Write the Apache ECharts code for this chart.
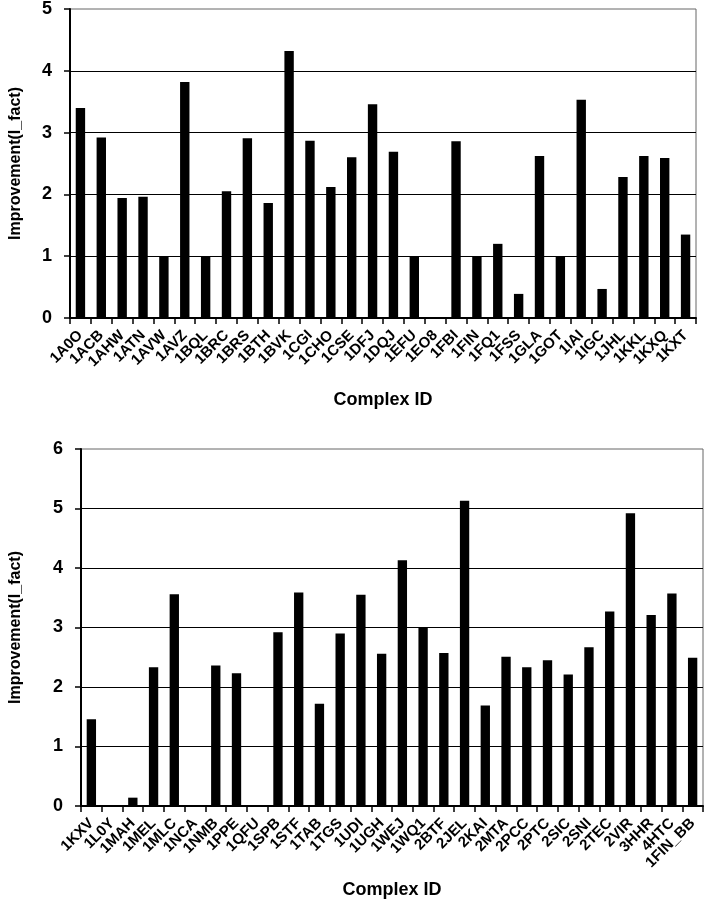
<!DOCTYPE html>
<html>
<head>
<meta charset="utf-8">
<script src="https://cdn.jsdelivr.net/npm/echarts@6/dist/echarts.min.js"></script>
<style>
html,body{margin:0;padding:0;background:#fff;}
#c{width:706px;height:900px;}
</style>
</head>
<body>
<div id="c"></div>
<script>
const topCategories = ['1A0O','1ACB','1AHW','1ATN','1AVW','1AVZ','1BQL','1BRC','1BRS','1BTH','1BVK','1CGI','1CHO','1CSE','1DFJ','1DQJ','1EFU','1EO8','1FBI','1FIN','1FQ1','1FSS','1GLA','1GOT','1IAI','1IGC','1JHL','1KKL','1KXQ','1KXT'];
const topValues = [3.40,2.92,1.94,1.96,1.0,3.82,1.0,2.05,2.91,1.86,4.32,2.87,2.12,2.60,3.46,2.69,1.0,0,2.86,1.0,1.20,0.39,2.62,1.0,3.53,0.47,2.28,2.62,2.59,1.35];
const bottomCategories = ['1KXV','1L0Y','1MAH','1MEL','1MLC','1NCA','1NMB','1PPE','1QFU','1SPB','1STF','1TAB','1TGS','1UDI','1UGH','1WEJ','1WQ1','2BTF','2JEL','2KAI','2MTA','2PCC','2PTC','2SIC','2SNI','2TEC','2VIR','3HHR','4HTC','1FIN_BB'];
const bottomValues = [1.46,0,0.14,2.33,3.56,0,2.36,2.23,0,2.92,3.59,1.72,2.90,3.55,2.56,4.13,3.00,2.57,5.13,1.69,2.51,2.33,2.45,2.21,2.67,3.27,4.92,3.21,3.57,2.49];
const topYMax = 5;
const bottomYMax = 6;
const xTitle = 'Complex ID';
const yTitle = 'Improvement(I_fact)';

const FONT = '"Liberation Sans", Arial, sans-serif';
function xAxisCfg(gridIndex, cats, nameGap){
  return {
    type:'category', gridIndex, data: cats,
    name: xTitle, nameLocation:'middle', nameGap,
    nameTextStyle:{fontFamily:FONT,fontWeight:'bold',fontSize:18,color:'#000'},
    axisLine:{lineStyle:{color:'#000',width:2}},
    axisTick:{show:true,length:6,lineStyle:{color:'#000',width:1.5}},
    axisLabel:{interval:0,rotate:45,margin:15,fontFamily:FONT,fontWeight:'bold',fontSize:15,color:'#000'}
  };
}
function yAxisCfg(gridIndex, max, nameGap){
  return {
    type:'value', gridIndex, min:0, max, interval:1,
    name: yTitle, nameLocation:'middle', nameGap,
    nameTextStyle:{fontFamily:FONT,fontWeight:'bold',fontSize:16,color:'#000'},
    axisLine:{show:true,lineStyle:{color:'#000',width:2}},
    axisTick:{show:true,length:6,lineStyle:{color:'#000',width:1.5}},
    axisLabel:{margin:18,fontFamily:FONT,fontWeight:'bold',fontSize:18,color:'#000'},
    splitLine:{show:true,showMaxLine:false,lineStyle:{color:'#000',width:1.2}}
  };
}
const chart = echarts.init(document.getElementById('c'), null, {renderer:'canvas'});
chart.setOption({
  animation:false,
  backgroundColor:'#fff',
  grid:[
    {left:66, top:8, width:630, height:310, show:true, borderColor:'#666', borderWidth:1, backgroundColor:'transparent'},
    {left:78, top:449, width:625, height:364, show:true, borderColor:'#666', borderWidth:1, backgroundColor:'transparent'}
  ],
  xAxis:[ xAxisCfg(0, topCategories, 73), xAxisCfg(1, bottomCategories, 75) ],
  yAxis:[ yAxisCfg(0, topYMax, 46), yAxisCfg(1, bottomYMax, 57) ],
  series:[
    {type:'bar', xAxisIndex:0, yAxisIndex:0, data:topValues, barWidth:'45%', itemStyle:{color:'#000'}},
    {type:'bar', xAxisIndex:1, yAxisIndex:1, data:bottomValues, barWidth:'45%', itemStyle:{color:'#000'}}
  ]
});
</script>
</body>
</html>
